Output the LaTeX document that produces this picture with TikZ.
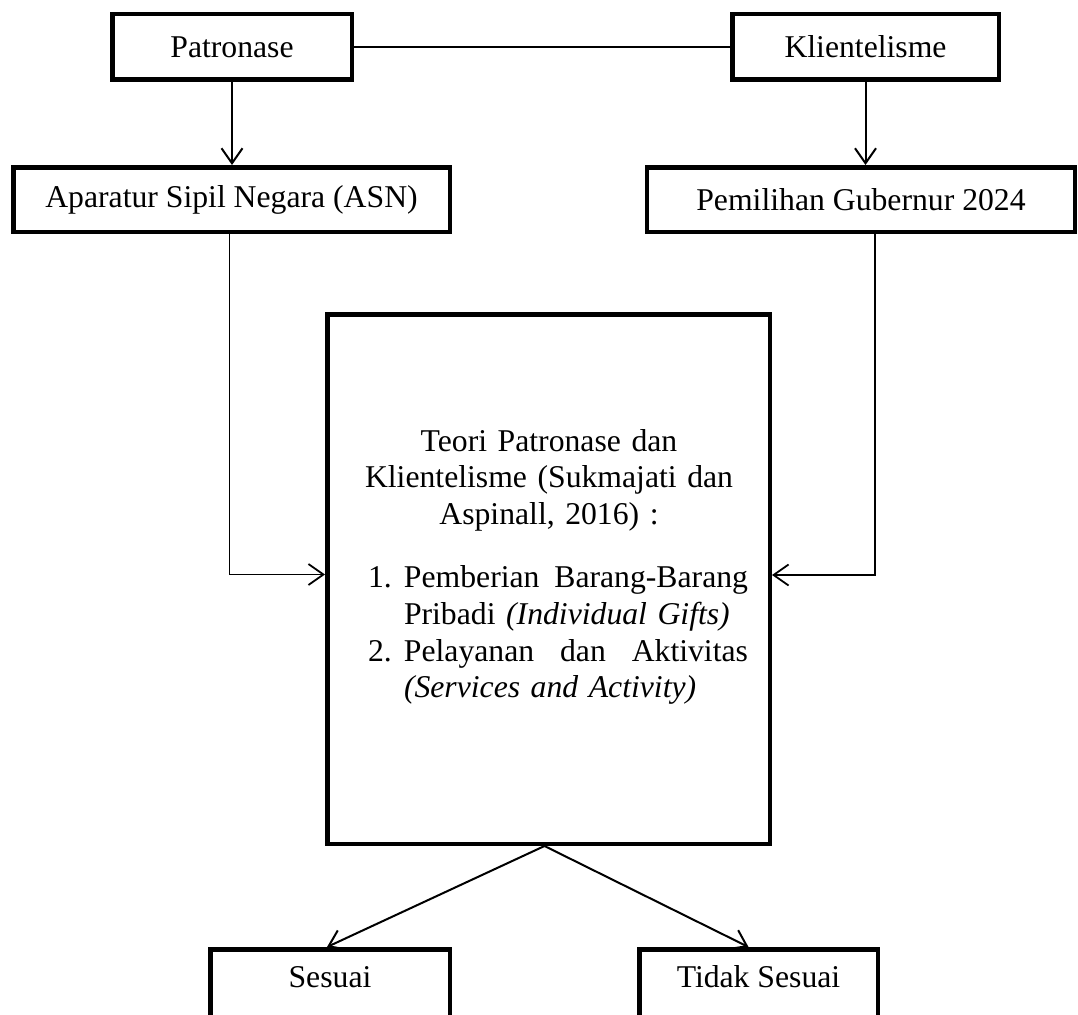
\documentclass[tikz,border=0pt]{standalone}
\usepackage{fontspec}
\setmainfont{Liberation Serif}
\usetikzlibrary{arrows.meta,calc}
\tikzset{
  box/.style={draw, line width=4.5pt, inner sep=0pt, align=center,
    font=\fontsize{31.7}{36.8}\selectfont},
  conn/.style={line width=1.6pt},
  arr/.style={line width=2pt, -{Straight Barb[length=15pt,width=21pt]}},
}
\begin{document}
\begin{tikzpicture}[x=1pt,y=1pt]
\fill[white] (0,0) rectangle (1078,-1014);
\useasboundingbox (0,0) rectangle (1078,-1014);

\node[box, minimum width=239.5pt, minimum height=65.5pt] (pat) at (232,-47) {Patronase};
\node[box, minimum width=266.5pt, minimum height=65.5pt] (kli) at (865.5,-47) {Klientelisme};
\node[box, minimum width=436.5pt, minimum height=64.5pt] (asn) at (231.5,-199.5) {Aparatur Sipil Negara (ASN)};
\node[box, minimum width=428pt, minimum height=64.5pt] (pem) at (861,-199.5) {Pemilihan Gubernur 2024};
\node[box, minimum width=442.5pt, minimum height=529.5pt] (teori) at (548.5,-579) {};
\node[inner sep=0pt, text width=398pt, font=\fontsize{31.7}{36.8}\selectfont] (teoritext) at (549,-567) {%
  {\centering Teori Patronase dan\\Klientelisme (Sukmajati dan\\Aspinall, 2016) :\par}
  \vspace{26pt}
  \noindent\hspace*{18pt}\makebox[36pt][l]{1.}\hbox to 344pt{Pemberian\hfill Barang-Barang}\par
  \noindent\hspace*{54pt}Pribadi \textit{(Individual Gifts)}\par
  \noindent\hspace*{18pt}\makebox[36pt][l]{2.}\hbox to 344pt{Pelayanan\hfill dan\hfill Aktivitas}\par
  \noindent\hspace*{54pt}\textit{(Services and Activity)}\par
};
\node[box, minimum width=239.5pt, minimum height=78.5pt, text height=21.5pt, text depth=24.5pt] (sesuai) at (330,-988.5) {Sesuai};
\node[box, minimum width=238.5pt, minimum height=78.5pt, text height=21.5pt, text depth=24.5pt] (tidak) at (758.5,-988.5) {Tidak Sesuai};

\draw[conn] (pat.east) -- (kli.west);
\draw[arr] (pat.south) -- (pat.south |- asn.north);
\draw[arr] (kli.south) -- (kli.south |- pem.north);
\draw[arr, line width=1.8pt] ([xshift=-2pt]asn.south) |- ([yshift=4.5pt]teori.west);
\draw[arr, line width=1.8pt] ([xshift=14pt]pem.south) |- ([yshift=4pt]teori.east);
\coordinate (apex) at ([xshift=-4pt]teori.south);
\draw[arr] (apex) -- ([xshift=-3pt]sesuai.north);
\draw[arr] (apex) -- ([xshift=-10pt]tidak.north);
\end{tikzpicture}
\end{document}
